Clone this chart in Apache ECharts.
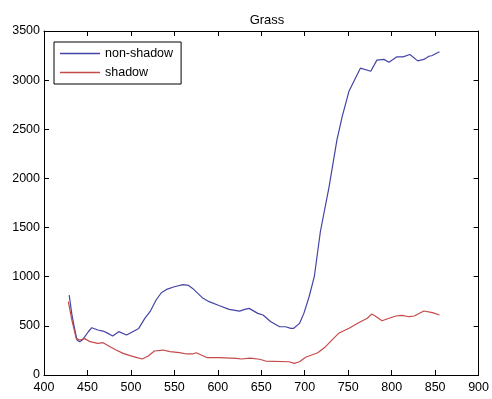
<!DOCTYPE html>
<html><head><meta charset="utf-8">
<script src="https://cdn.jsdelivr.net/npm/echarts@6/dist/echarts.min.js"></script>
<style>html,body{margin:0;padding:0;background:#fff}#c{width:492px;height:399px}</style>
</head><body><div id="c"></div>
<script>
var titleText = 'Grass';
var seriesNames = ['non-shadow', 'shadow'];
var nsX = [429,432,435,438,441,444,447,451,455,462,468,472,479,486,495,502,509,516,522,529,535,541,550,560,566,571,577,583,590,602,613,625,631,636,646,652,661,671,678,684,687,694,699,705,711,718,728,737,743,751,764,776,783,791,797,806,813,821,830,837,843,846,855];
var nsY = [813,620,480,356,339,355,390,440,481,458,447,431,397,441,407,441,474,576,644,763,837,871,898,920,912,881,830,780,746,705,668,650,668,678,627,610,542,491,491,475,474,525,627,796,1000,1460,1915,2390,2627,2890,3122,3090,3204,3211,3183,3237,3237,3261,3196,3211,3244,3248,3288];
var shX = [428,432,437,441,447,453,462,468,476,483,491,499,506,513,520,527,537,545,556,564,571,575,581,588,602,621,627,637,648,655,682,688,694,701,715,724,732,739,751,762,772,777,781,789,797,805,812,820,826,837,847,855];
var shY = [746,560,373,356,370,339,322,329,288,254,220,197,180,163,193,244,254,237,227,214,214,227,203,176,176,170,163,172,160,142,135,119,135,180,227,288,363,424,475,532,577,620,600,552,577,600,607,593,600,651,634,610];
var xTicks = {min: 400, max: 900, step: 50};
var yTicks = {min: 0, max: 3500, step: 500};
var lineColors = ['#4444a6', '#c44a4a'];

function pairs(xs, ys) { return xs.map(function (x, i) { return [x, ys[i]]; }); }

var chart = echarts.init(document.getElementById('c'), null, {renderer: 'canvas'});
var font = 'Liberation Sans, Arial, sans-serif';
var axisCommon = {
  type: 'value',
  axisLine: {show: true, onZero: false, lineStyle: {color: '#000', width: 1}},
  axisTick: {show: true, inside: true, length: 5, lineStyle: {color: '#000'}},
  splitLine: {show: false}
};
chart.setOption({
  animation: false,
  backgroundColor: '#fff',
  title: {text: titleText, left: 262, textAlign: 'center', top: 9,
    textStyle: {fontFamily: font, fontSize: 13, fontWeight: 'normal', color: '#000'}},
  grid: {left: 44, right: 12, top: 31, bottom: 24},
  legend: {
    orient: 'vertical', left: 54, top: 42,
    borderColor: '#000', borderWidth: 1, backgroundColor: '#fff',
    padding: [5, 8, 5, 6], itemGap: 6, itemWidth: 40, itemHeight: 1.5,
    icon: 'rect',
    textStyle: {fontFamily: font, fontSize: 12.5, color: '#000', padding: [0, 0, 0, 0]},
    data: seriesNames.map(function (n, i) { return {name: n, itemStyle: {color: lineColors[i]}}; })
  },
  xAxis: [
    Object.assign({}, axisCommon, {min: xTicks.min, max: xTicks.max, interval: xTicks.step, position: 'bottom',
      axisLabel: {margin: 6, fontFamily: font, fontSize: 12.5, color: '#000'}}),
    Object.assign({}, axisCommon, {min: xTicks.min, max: xTicks.max, interval: xTicks.step, position: 'top',
      axisLabel: {show: false}})
  ],
  yAxis: [
    Object.assign({}, axisCommon, {min: yTicks.min, max: yTicks.max, interval: yTicks.step, position: 'left',
      axisLabel: {margin: 4, fontFamily: font, fontSize: 12.5, color: '#000',
        formatter: function (v) { return String(v); }}}),
    Object.assign({}, axisCommon, {min: yTicks.min, max: yTicks.max, interval: yTicks.step, position: 'right',
      axisLabel: {show: false}})
  ],
  series: [
    {name: seriesNames[0], type: 'line', symbol: 'none', data: pairs(nsX, nsY),
      lineStyle: {color: lineColors[0], width: 1.2}, itemStyle: {color: lineColors[0]}},
    {name: seriesNames[1], type: 'line', symbol: 'none', data: pairs(shX, shY),
      lineStyle: {color: lineColors[1], width: 1.2}, itemStyle: {color: lineColors[1]}}
  ]
});
</script></body></html>
